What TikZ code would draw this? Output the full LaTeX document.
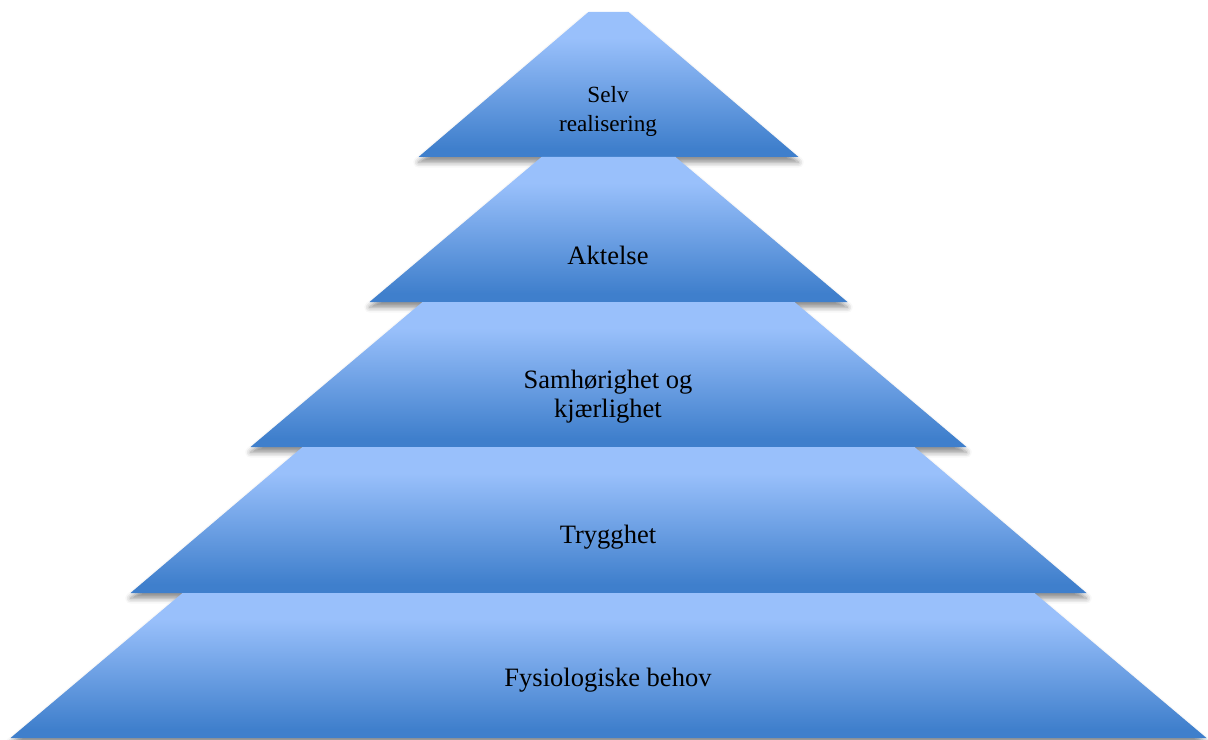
\documentclass[tikz,border=0pt]{standalone}
\usepackage{fontspec}
\setmainfont{Liberation Serif}
\usetikzlibrary{shadows.blur}

\definecolor{pyrlight}{RGB}{153,192,251}
\definecolor{pyrdark}{RGB}{63,127,204}
\pgfdeclareverticalshading{pyramid}{100bp}{rgb(0bp)=(0.247,0.498,0.8); rgb(28bp)=(0.247,0.498,0.8); rgb(66bp)=(0.6,0.753,0.984); rgb(100bp)=(0.6,0.753,0.984)}

\begin{document}
\begin{tikzpicture}[x=0.02cm, y=-0.02cm]
    \useasboundingbox (0,0) rectangle (1208,740);

    % Define the shading and shadow of one level for easy reference
    \tikzset{
      level/.style={
        shading=pyramid,
        blur shadow={shadow xshift=0pt, shadow yshift=-3pt, shadow blur radius=3pt, shadow opacity=45}
      },
      leveltext/.style={
        align=center, font=\fontsize{15.1pt}{16.5pt}\selectfont
      }
    }

    % levels from the top down: top y / bottom y / top half width / bottom half width
    \foreach \yt/\yb/\tw/\bw in {12/157/20/190, 157/302/67/239, 302/447/186/358, 447/593/306/478, 593/738/426/598} {
        \shade[level] (608.5-\tw, \yt) -- (608.5+\tw, \yt) -- (608.5+\bw, \yb) -- (608.5-\bw, \yb) -- cycle;
    }

    \node[leveltext, font=\fontsize{13.2pt}{16.5pt}\selectfont] (selv) at (608, 111) {Selv\\realisering};
    \node[leveltext] (aktelse) at (608, 255) {Aktelse};
    \node[leveltext] (samhorighet) at (608, 397) {Samhørighet og\\kjærlighet};
    \node[leveltext] (trygghet) at (608, 537) {Trygghet};
    \node[leveltext] (fysiologiske) at (608, 680) {Fysiologiske behov};
\end{tikzpicture}
\end{document}
